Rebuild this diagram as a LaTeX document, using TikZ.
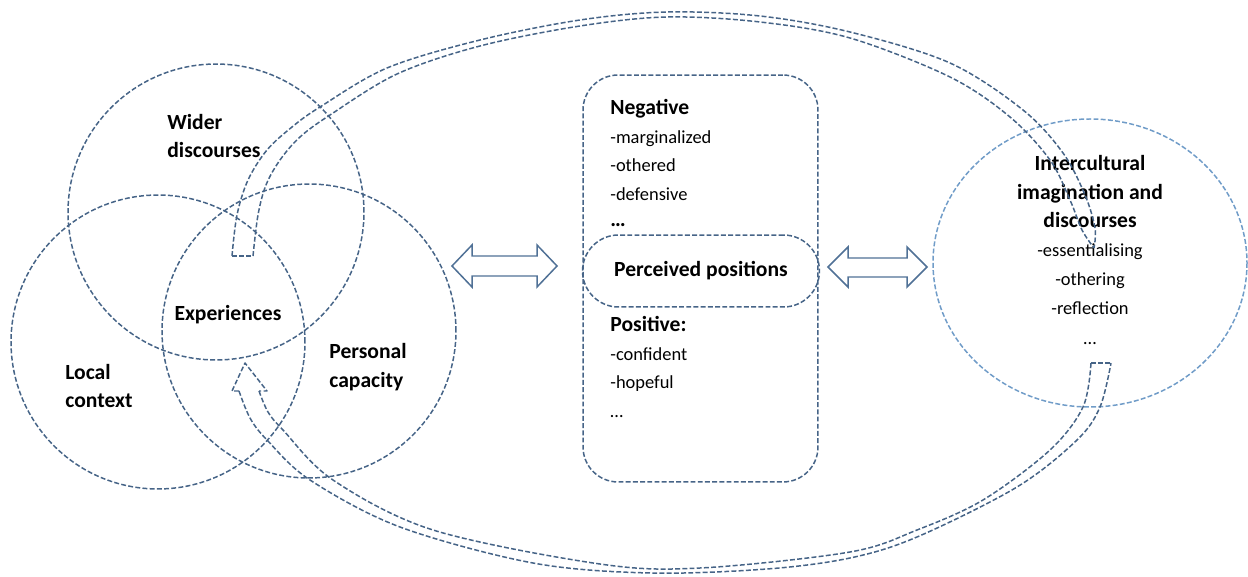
\documentclass[tikz,border=0pt]{standalone}
\usepackage{fontspec}
\setmainfont{Carlito}
\usetikzlibrary{positioning}

\definecolor{dashblue}{RGB}{70,100,135}
\definecolor{lightblue}{RGB}{112,156,200}
\definecolor{arrowblue}{RGB}{80,113,150}

\tikzset{
  dashline/.style={draw=dashblue, line width=0.85pt, dash pattern=on 2.8pt off 1.3pt},
  ring/.style={dashline, circle, inner sep=0pt},
  bandline/.style={dashline, line join=round},
  hollowarrow/.style={draw=arrowblue, line width=0.85pt, fill=white, line join=miter},
  lbl/.style={font=\fontsize{12.3}{16.5}\selectfont\bfseries, inner sep=0pt},
  item/.style={font=\fontsize{10.5}{16}\selectfont, inner sep=0pt}
}

\begin{document}
\begin{tikzpicture}[x=0.02cm, y=-0.02cm]
    \useasboundingbox (0,0) rectangle (1248,577);

    % Three overlapping circles
    \node[ring, minimum size=5.92cm] (wider) at (216,212) {};
    \node[ring, minimum size=5.88cm] (local) at (158,342) {};
    \node[ring, minimum size=5.88cm] (personal) at (309,331) {};

    % Right circle
    \draw[dashline, draw=lightblue] (1090,263) ellipse (157 and 144);
    \coordinate (inter) at (1090,263);

    % Circle labels
    \node[lbl, anchor=west, align=left] (lwider) at (167,136) {Wider\\discourses};
    \node[lbl, anchor=west, align=left] (llocal) at (65,386) {Local\\context};
    \node[lbl, anchor=west, align=left] (lpersonal) at (329,367) {Personal\\capacity};
    \node[lbl] (lexp) at (228,315) {Experiences};

    % Central box
    \node[dashline, rectangle, rounded corners=0.7cm, minimum width=4.7cm, minimum height=8.14cm] (posbox) at (700.5,278.5) {};
    \node[dashline, rectangle, rounded corners=0.72cm, minimum width=4.74cm, minimum height=1.44cm] (percv) at (701,271) {};
    \node[lbl] (lpercv) at (percv) {Perceived positions};

    \node[lbl, anchor=base west] (neg) at (610,115) {Negative};
    \foreach \t [count=\i] in {-marginalized,-othered,-defensive}
        \node[item, anchor=base west] (neg\i) at (610,{115+28.5*\i}) {\t};
    \node[lbl, anchor=base west] (negdots) at (610,227) {…};

    \node[lbl, anchor=base west] (pos) at (610,332) {Positive:};
    \foreach \t [count=\i] in {-confident,-hopeful,…}
        \node[item, anchor=base west] (pos\i) at (610,{332+28.5*\i}) {\t};

    % Right circle text
    \node[lbl, anchor=base, align=center] (linter) at (1090,228) {Intercultural\\imagination and\\discourses};
    \foreach \t [count=\i] in {-essentialising,-othering,-reflection,…}
        \node[item, anchor=base] (int\i) at (1090,{227+29.3*\i}) {\t};

    % Hollow double arrows
    \draw[hollowarrow] (452,266) -- (472,245) -- (472,256) -- (537,256) -- (537,245) -- (557,266)
        -- (537,287) -- (537,276) -- (472,276) -- (472,287) -- cycle;
    \draw[hollowarrow] (828,267) -- (848,247) -- (848,258) -- (907,258) -- (907,247) -- (927,267)
        -- (907,287) -- (907,277) -- (848,277) -- (848,287) -- cycle;

    % Upper curved band
    \draw[bandline] plot[smooth, tension=0.55] coordinates {(232,256) (237,215) (248,180) (267,150)
        (292,127) (320,107) (387,68) (480,40) (580,20) (667,12) (760,16) (850,32) (950,63)
        (1023,110) (1063,153) (1085,195) (1095,228) (1094,248)};
    \draw[bandline] plot[smooth, tension=0.55] coordinates {(253,256) (258,215) (266,185) (280,160)
        (300,137) (330,115) (397,74) (480,46) (580,26) (667,17) (760,22) (850,38) (950,77)
        (1010,117) (1050,160) (1070,200) (1082,230) (1094,248)};
    \draw[bandline] (232,256) -- (253,256);

    % Lower curved band
    \draw[bandline] plot[smooth, tension=0.55] coordinates {(239,391) (250,418) (267,440) (310,480)
        (400,527) (533,563) (650,573) (767,569) (850,558) (917,537) (1017,487) (1077,440)
        (1100,407) (1111,363)};
    \draw[bandline] plot[smooth, tension=0.55] coordinates {(259,391) (268,412) (283,430) (333,480)
        (433,530) (600,564) (700,568) (850,552) (917,530) (983,500) (1050,450) (1083,407)
        (1091,363)};
    \draw[bandline] (1091,363) -- (1111,363);
    \draw[bandline] (239,391) -- (232,391) -- (245,363) -- (267,391) -- (259,391);
\end{tikzpicture}
\end{document}
